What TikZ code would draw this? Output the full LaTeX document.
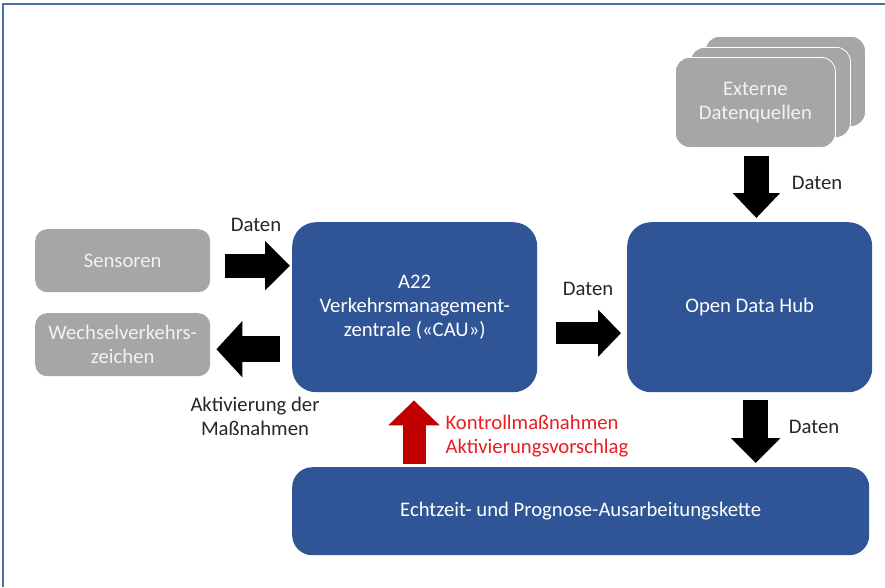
\documentclass[tikz,border=0pt]{standalone}
\usepackage{fontspec}
\setmainfont{Carlito}
\usetikzlibrary{arrows.meta,calc,positioning}
\definecolor{boxblue}{RGB}{47,85,151}
\definecolor{boxgray}{RGB}{166,166,166}
\definecolor{graytext}{RGB}{242,242,242}
\definecolor{labeltext}{RGB}{38,38,38}
\definecolor{framecol}{RGB}{79,111,168}
\definecolor{redarrow}{RGB}{192,0,0}
\definecolor{redtext}{RGB}{235,28,36}
\tikzset{
  txt/.style={font=\fontsize{20.7}{24}\selectfont},
  graybox/.style={draw=none, fill=boxgray, rounded corners=12pt, text=graytext,
    minimum width=175pt, minimum height=63pt, anchor=north west, align=center, txt},
  stackbox/.style={draw=white, line width=0.8pt, fill=boxgray, rounded corners=14pt, text=graytext,
    minimum width=160pt, minimum height=90pt, anchor=north west, align=center, txt},
  bluebox/.style={draw=none, fill=boxblue, rounded corners=24pt, text=white,
    anchor=north west, align=center, txt},
  lbl/.style={text=labeltext, align=center, txt},
  blockarrow/.style={line width=#1, -{Triangle[length=25pt, width=48pt]}},
  blockarrow/.default=24pt,
}
\begin{document}
\begin{tikzpicture}[x=1pt,y=-1pt]
\useasboundingbox (0,0) rectangle (885,587);
% frame
\draw[framecol, line width=1.2pt] (3,587) -- (3,4) -- (885,4);

% boxes
\node[graybox] (sens) at (35,229) {Sensoren};
\node[graybox] (wvz) at (35,313) {Wechselverkehrs-\\zeichen};
\node[bluebox, minimum width=245pt, minimum height=170pt] (a22) at (292,222)
  {A22\\Verkehrsmanagement-\\zentrale («CAU»)};
\node[bluebox, minimum width=245pt, minimum height=170pt] (odh) at (627,222) {Open Data Hub};
\node[bluebox, rounded corners=20pt, minimum width=577pt, minimum height=88pt] (ket) at (292,467)
  {Echtzeit- und Prognose-Ausarbeitungskette};
\node[stackbox] (ext3) at (705,36) {};
\node[stackbox] (ext2) at (690,47) {};
\node[stackbox] (ext1) at (675,57) {Externe\\Datenquellen};

% coordinates for block arrows
\coordinate (s1) at ($(sens.east)+(15,5)$);
\coordinate (s2) at ($(a22.west |- s1)+(-2,0)$);
\coordinate (w1) at ($(a22.west)+(-12,42)$);
\coordinate (w2) at ($(wvz.east |- w1)+(6,0)$);
\coordinate (m1) at ($(a22.east)+(19,26)$);
\coordinate (m2) at ($(odh.west |- m1)+(-6,0)$);
\coordinate (e1) at ($(ext1.south)+(1,8)$);
\coordinate (e2) at ($(odh.north -| e1)+(0,-4)$);
\coordinate (o1) at ($(odh.south)+(6,8)$);
\coordinate (o2) at ($(ket.north -| o1)+(0,-4)$);
\coordinate (r1) at (414,464);
\coordinate (r2) at ($(a22.south -| r1)+(0,8)$);

% block arrows
\draw[blockarrow] (s1) -- (s2);
\draw[line width=26pt, -{Triangle[length=26pt, width=55pt]}] (w1) -- (w2);
\draw[line width=22pt, -{Triangle[length=23pt, width=46pt]}] (m1) -- (m2);
\draw[line width=25pt, -{Triangle[length=25pt, width=46pt]}] (e1) -- (e2);
\draw[line width=25pt, -{Triangle[length=25pt, width=48pt]}] (o1) -- (o2);
\draw[redarrow, line width=23pt, -{Triangle[length=25pt, width=50pt]}] (r1) -- (r2);

% labels
\node[lbl] (l1) at (256,225) {Daten};
\node[lbl] (l2) at (588,289) {Daten};
\node[lbl] (l3) at (817,183) {Daten};
\node[lbl] (l4) at (814,427) {Daten};
\node[lbl] (l5) at (255,416) {Aktivierung der\\Maßnahmen};
\node[lbl, text=redtext, anchor=west, align=left] (l6) at (442,436)
  {Kontrollmaßnahmen\\Aktivierungsvorschlag};
\end{tikzpicture}
\end{document}
